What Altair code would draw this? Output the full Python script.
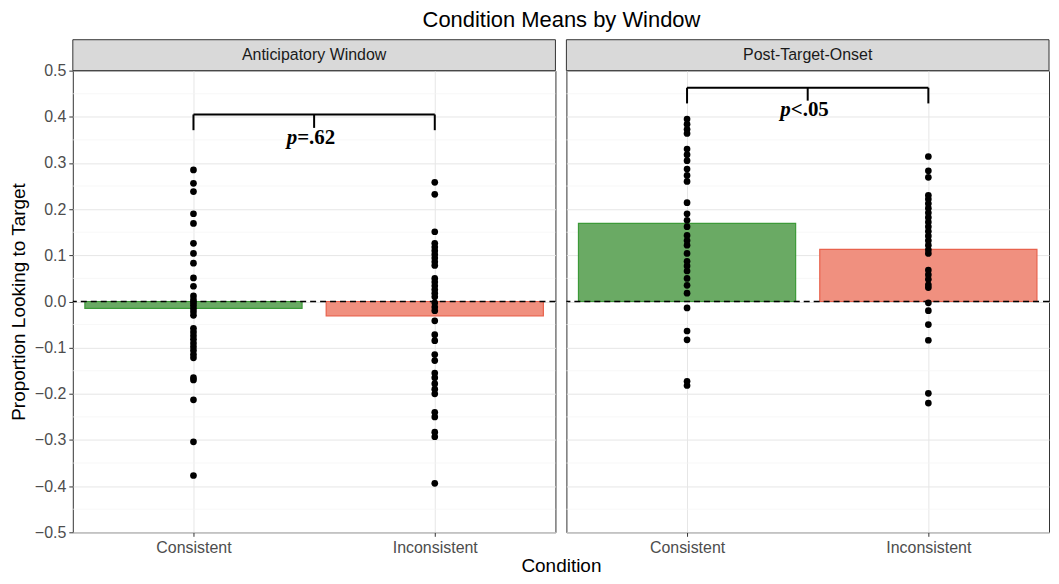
import altair as alt
import pandas as pd

windows = ["Anticipatory Window", "Post-Target-Onset"]
conditions = ["Consistent", "Inconsistent"]

aw_con = [0.285, 0.256, 0.238, 0.19, 0.169, 0.126, 0.104, 0.083, 0.051, 0.033, 0.012, 0.004,
          -0.002, -0.008, -0.015, -0.022, -0.03, -0.058, -0.066, -0.074, -0.082, -0.09, -0.098,
          -0.106, -0.115, -0.122, -0.165, -0.17, -0.213, -0.304, -0.377]
aw_inc = [0.258, 0.232, 0.151, 0.126, 0.118, 0.11, 0.102, 0.094, 0.086, 0.078, 0.05, 0.042,
          0.034, 0.026, 0.018, 0.01, -0.003, -0.012, -0.02, -0.042, -0.072, -0.085, -0.115,
          -0.128, -0.155, -0.165, -0.178, -0.19, -0.2, -0.24, -0.25, -0.283, -0.293, -0.394]
pt_con = [0.395, 0.384, 0.373, 0.364, 0.33, 0.318, 0.305, 0.287, 0.273, 0.26, 0.214, 0.19,
          0.176, 0.162, 0.143, 0.132, 0.122, 0.104, 0.087, 0.077, 0.066, 0.05, 0.035, 0.018,
          -0.014, -0.064, -0.083, -0.173, -0.182]
pt_inc = [0.314, 0.283, 0.269, 0.23, 0.222, 0.212, 0.202, 0.192, 0.182, 0.172, 0.162, 0.152,
          0.142, 0.132, 0.122, 0.112, 0.104, 0.068, 0.058, 0.048, 0.036, 0.03, -0.003, -0.02,
          -0.05, -0.084, -0.199, -0.22]

aw_means = [-0.015, -0.031]
pt_means = [0.169, 0.113]

bracket_top = [0.405, 0.463]
bracket_end = [0.371, 0.429]
bracket_mid = [0.376, 0.435]
p_rest = ["=.62", "<.05"]
p_y = [0.354, 0.414]

major_ticks = [-0.5, -0.4, -0.3, -0.2, -0.1, 0.0, 0.1, 0.2, 0.3, 0.4, 0.5]
minor_ticks = [-0.45, -0.35, -0.25, -0.15, -0.05, 0.05, 0.15, 0.25, 0.35, 0.45]

W = 484
H = 463
STRIP = 31
GAP = 11
FONT = "Liberation Sans"

x_scale = alt.Scale(domain=[0.5, 2.5], nice=False, zero=False)
y_scale = alt.Scale(domain=[-0.5, 0.5], nice=False, zero=False)

label_expr = f"datum.value == 1 ? '{conditions[0]}' : '{conditions[1]}'"


def panel(i, con, inc, means, show_y):
    if show_y:
        y_axis = alt.Axis(values=major_ticks, format=".1f", title="Proportion Looking to Target",
                          grid=True, titlePadding=6)
        x_axis = alt.Axis(values=[1, 2], title=None, grid=True, labelExpr=label_expr)
    else:
        y_axis = alt.Axis(values=major_ticks, labels=False, ticks=False, domain=False,
                          title=None, grid=True)
        x_axis = alt.Axis(values=[1, 2], title="Condition", grid=True, labelExpr=label_expr,
                          titleX=-GAP / 2, titleY=33, titleAlign="center",
                          titleBaseline="middle", titleAnchor="start")

    X = lambda f: alt.X(f, scale=x_scale, axis=x_axis)
    Y = lambda f: alt.Y(f, scale=y_scale, axis=y_axis)

    minor = alt.Chart(pd.DataFrame({"v": minor_ticks})).mark_rule(
        color="#f3f3f3", strokeWidth=0.7).encode(y=Y("v:Q"))

    bars_df = pd.DataFrame({"idx": [1, 2], "mean": means, "cond": conditions})
    bars = alt.Chart(bars_df).transform_calculate(
        x1="datum.idx - 0.45", x2="datum.idx + 0.45", zero="0"
    ).mark_bar(strokeWidth=1.2).encode(
        x=X("x1:Q"), x2="x2:Q", y=Y("mean:Q"), y2="zero:Q",
        fill=alt.Fill("cond:N", scale=alt.Scale(domain=conditions, range=["#6aaa64", "#f0907f"]),
                      legend=None),
        stroke=alt.Stroke("cond:N", scale=alt.Scale(domain=conditions, range=["#3c9a38", "#e8624d"]),
                          legend=None),
    )

    zero_line = alt.Chart(pd.DataFrame({"z": [0.0]})).mark_rule(
        color="black", strokeDash=[6, 4], strokeWidth=1.4).encode(y=Y("z:Q"))

    pts_df = pd.DataFrame({"idx": [1] * len(con) + [2] * len(inc), "value": con + inc})
    pts = alt.Chart(pts_df).mark_circle(size=45, color="black", opacity=1).encode(
        x=X("idx:Q"), y=Y("value:Q"))

    hbr = alt.Chart(pd.DataFrame({"a": [1], "b": [2], "y": [bracket_top[i]]})).mark_rule(
        color="black", strokeWidth=2).encode(x=X("a:Q"), x2="b:Q", y=Y("y:Q"))
    vbr = alt.Chart(pd.DataFrame({"a": [1, 2, 1.5], "y": [bracket_top[i]] * 3,
                                  "y2": [bracket_end[i], bracket_end[i], bracket_mid[i]]})).mark_rule(
        color="black", strokeWidth=2).encode(x=X("a:Q"), y=Y("y:Q"), y2="y2:Q")

    lab_df = pd.DataFrame({"a": [1.5], "y": [p_y[i]], "p": ["p"], "rest": [p_rest[i]]})
    p_txt = alt.Chart(lab_df).mark_text(font="Liberation Serif", fontSize=21, fontWeight="bold",
                                        fontStyle="italic", align="right", baseline="middle",
                                        dx=-17, color="black").encode(
        x=X("a:Q"), y=Y("y:Q"), text="p:N")
    r_txt = alt.Chart(lab_df).mark_text(font="Liberation Serif", fontSize=21, fontWeight="bold",
                                        align="left", baseline="middle", dx=-17,
                                        color="black").encode(
        x=X("a:Q"), y=Y("y:Q"), text="rest:N")

    strip_df = pd.DataFrame({"t": [windows[i]]})
    strip = alt.Chart(strip_df).mark_rect(fill="#d9d9d9", stroke="#333333", strokeWidth=1).encode(
        x=alt.value(0), x2=alt.value(W), y=alt.value(-STRIP), y2=alt.value(0))
    strip_txt = alt.Chart(strip_df).mark_text(font=FONT, fontSize=16, color="#1a1a1a",
                                              baseline="middle").encode(
        x=alt.value(W / 2), y=alt.value(-STRIP / 2), text="t:N")

    return alt.layer(minor, bars, zero_line, pts, hbr, vbr, p_txt, r_txt, strip, strip_txt).properties(
        width=W, height=H)


left = panel(0, aw_con, aw_inc, aw_means, True)
right = panel(1, pt_con, pt_inc, pt_means, False)

chart = alt.hconcat(left, right, spacing=GAP, bounds="flush").properties(
    title=alt.TitleParams("Condition Means by Window", anchor="middle", dx=32,
                          fontSize=22, font=FONT, fontWeight="normal", color="black", offset=7),
    padding=0,
).configure_view(stroke="#333333", strokeWidth=1).configure_axis(
    labelFont=FONT, labelFontSize=16, labelColor="#4d4d4d", tickColor="#333333", tickSize=4,
    labelPadding=3, domain=False, gridColor="#e6e6e6", gridWidth=1,
    titleFont=FONT, titleFontSize=19, titleFontWeight="normal", titleColor="black",
)

chart.save("out.html", embed_options={"renderer": "svg", "actions": False})
